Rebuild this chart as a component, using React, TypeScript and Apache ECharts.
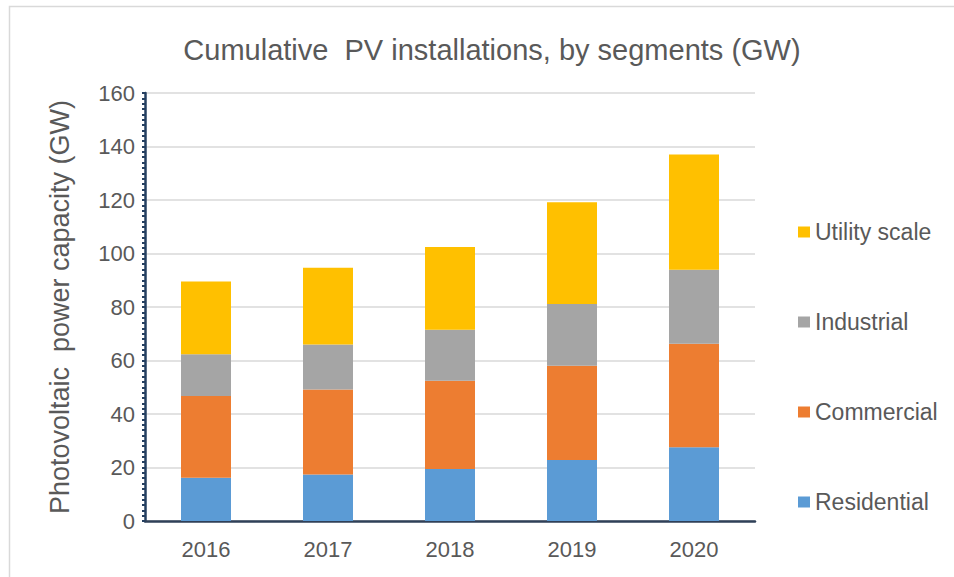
import React, { useEffect, useRef } from "react";
import * as echarts from "echarts";

const years = ["2016", "2017", "2018", "2019", "2020"];
const residential = [16.2, 17.4, 19.4, 22.8, 27.6];
const commercial = [30.5, 31.8, 33.0, 35.2, 38.7];
const industrial = [15.6, 16.8, 19.1, 23.1, 27.6];
const utility = [27.2, 28.7, 30.9, 38.1, 43.1];
const seriesNames = ["Residential", "Commercial", "Industrial", "Utility scale"];
const seriesColors = ["#5B9BD5", "#ED7D31", "#A5A5A5", "#FFC000"];
const legendOrder = ["Utility scale", "Industrial", "Commercial", "Residential"];

export default function App() {
  const ref = useRef<HTMLDivElement>(null);
  useEffect(() => {
    if (!ref.current) return;
    const chart = echarts.init(ref.current, undefined, { renderer: "svg" });
    const font = "'Liberation Sans', Arial, sans-serif";
    const values = [residential, commercial, industrial, utility];
    chart.setOption({
      animation: false,
      textStyle: { fontFamily: font },
      title: {
        text: "Cumulative  PV installations, by segments (GW)",
        left: 487,
        textAlign: "center",
        top: 30,
        textStyle: { fontFamily: font, fontSize: 29, fontWeight: "normal", color: "#595959" },
      },
      graphic: [
        {
          type: "rect",
          shape: { x: 9.5, y: 6.5, width: 1000, height: 1000 },
          style: { fill: "none", stroke: "#D9D9D9", lineWidth: 1.5 },
          silent: true,
        },
      ],
      legend: {
        orient: "vertical",
        left: 798,
        top: 220,
        padding: 0,
        itemWidth: 12,
        itemHeight: 11,
        itemGap: 66,
        data: legendOrder,
        icon: "rect",
        textStyle: { fontFamily: font, fontSize: 23, color: "#595959", lineHeight: 24 },
      },
      grid: { left: 145, right: 199, top: 93, bottom: 56, containLabel: false },
      xAxis: {
        type: "category",
        data: years,
        axisLine: { show: true, lineStyle: { color: "#2F4058", width: 2.5 } },
        axisTick: { show: false },
        axisLabel: { fontFamily: font, fontSize: 22, color: "#595959", margin: 17 },
      },
      yAxis: {
        type: "value",
        min: 0,
        max: 160,
        interval: 20,
        name: "Photovoltaic  power capacity (GW)",
        nameLocation: "middle",
        nameRotate: 90,
        nameGap: 72,
        nameTextStyle: { fontFamily: font, fontSize: 27, color: "#595959" },
        axisLine: { show: true, lineStyle: { color: "#243F60", width: 2.5 } },
        axisTick: { show: true, length: 3, lineStyle: { color: "#243F60", width: 2 } },
        minorTick: { show: true, splitNumber: 10, length: 3, lineStyle: { color: "#243F60", width: 2 } },
        axisLabel: { fontFamily: font, fontSize: 22, color: "#595959", margin: 10 },
        splitLine: { show: true, lineStyle: { color: "#D9D9D9", width: 1.5 } },
      },
      series: seriesNames.map((name, i) => ({
        name,
        type: "bar",
        stack: "total",
        barWidth: 50,
        data: values[i],
        itemStyle: { color: seriesColors[i] },
      })),
    });
    return () => chart.dispose();
  }, []);
  return (
    <div
      ref={ref}
      style={{ position: "fixed", left: 0, top: 0, width: 954, height: 577, background: "#fff" }}
    />
  );
}
